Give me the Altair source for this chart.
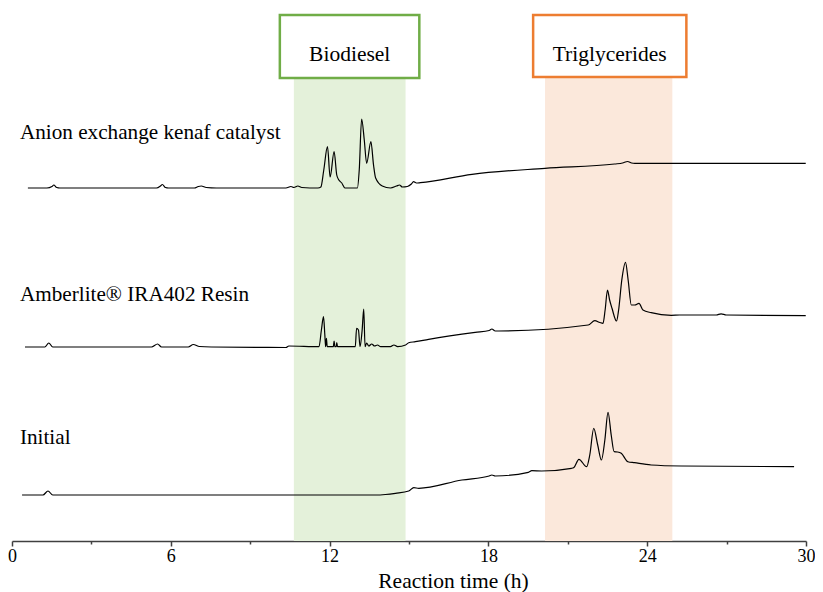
import altair as alt
import pandas as pd

# ---- data (time in h, detector signal in arbitrary units) ----
anion_t = [0.60,1.32,1.51,1.58,1.69,1.81,5.46,5.61,5.68,5.80,5.91,6.89,7.04,7.15,7.34,7.72,
           10.35,10.54,10.65,10.80,10.95,11.56,11.67,11.78,11.92,12.02,12.17,12.27,12.35,12.46,12.58,
           13.05,13.12,13.21,13.31,13.40,13.56,13.66,13.74,13.99,14.30,14.53,14.64,14.75,14.94,
           15.09,15.17,15.28,15.43,17.38,20.14,22.77,23.07,23.26,23.41,23.53,29.99]
anion_s = [353,353,354.5,356,353.5,353,353,355,356.5,353.5,353,353,354.5,355,353.5,353,
           353,354.5,353.5,355,353.5,353,354,371,394.3,364,389.3,366,361,358,353,
           353,371,422,401,377.7,399.3,376,363,355,353,355,356,354,354.5,
           357,359.3,358,358.3,366.7,372.7,377,378,379.5,378,377.7,377.7]

amber_t = [0.49,1.24,1.39,1.54,5.27,5.50,5.65,6.66,6.85,7.08,7.53,10.35,10.46,11.60,11.69,11.77,
           11.82,11.85,11.88,11.91,12.14,12.17,12.20,12.25,12.27,12.30,12.97,13.02,13.09,13.15,
           13.23,13.29,13.34,13.40,13.48,13.59,13.70,13.81,13.93,14.30,14.43,14.57,14.87,14.99,
           15.24,15.74,17.50,18.03,18.13,18.26,18.38,21.77,22.02,22.21,22.33,22.41,22.50,22.58,
           22.67,22.84,22.92,23.04,23.18,23.28,23.40,23.53,23.69,23.84,24.15,24.91,25.22,26.61,
           26.79,26.99,29.99]
amber_s = [194,194,198,194,194,197,194,194,196.5,194.5,194,193.5,195,194.3,211,224.3,
           206,194.3,202.7,194.3,194.3,200,194.3,194.3,198.3,194.3,194.3,212.7,211,194.3,
           211,232,194.3,198,195,197,195,196,194.3,194.3,196,194.3,196,198.3,
           199.3,201.7,208.7,210.5,212,210,210,216,220.3,218.5,217.7,231,251,241,
           232.7,220,231,261,278.7,261,236,236,237.7,231,228.3,225.7,226,226,
           227.2,226,225.3]

init_t = [0.38,1.17,1.36,1.54,13.74,14.11,14.49,14.99,15.18,15.37,17.00,18.03,18.13,18.26,
          19.51,19.64,20.01,21.14,21.23,21.42,21.71,21.83,21.98,22.13,22.27,22.40,22.52,22.64,
          22.75,22.88,23.02,23.27,23.52,24.15,25.28,29.55]
init_s = [46,46,50,46,46,46.5,47.7,50,53.3,52.7,61,65,66,65,
          68.7,70.3,70,72.7,73.5,81.7,74.3,86,112.7,96,81,101,128.7,106,
          89.3,89,87.7,79.3,78.3,76,75,74.3]

trace_names = ["Anion exchange kenaf catalyst", "Amberlite® IRA402 Resin", "Initial"]
label_t = [0.3, 0.3, 0.3]
label_s = [402, 240, 97]

region_names = ["Biodiesel", "Triglycerides"]
region_start = [10.65, 20.14]
region_end = [14.87, 24.95]
region_top = [463, 463]
region_fill = ["#E4F1DA", "#FBE8DB"]
box_start = [10.12, 19.69]
box_end = [15.39, 25.48]
box_bottom = [463, 464]
box_top = [526, 526]
box_stroke = ["#70AD47", "#ED7D31"]
box_text_t = [12.76, 22.58]
box_text_s = [486, 486]

x_ticks = [0, 3, 6, 9, 12, 15, 18, 21, 24, 27, 30]
y_domain = [0, 533]

# ---- tables ----
rows = []
for name, ts, ss in zip(trace_names, [anion_t, amber_t, init_t], [anion_s, amber_s, init_s]):
    for t, s in zip(ts, ss):
        rows.append({"trace": name, "t": t, "s": s})
traces = pd.DataFrame(rows)
labels = pd.DataFrame({"name": trace_names, "t": label_t, "s": label_s})
regions = pd.DataFrame({
    "name": region_names, "start": region_start, "end": region_end, "top": region_top,
    "fill": region_fill, "bstart": box_start, "bend": box_end, "bbot": box_bottom,
    "btop": box_top, "stroke": box_stroke, "tt": box_text_t, "ts": box_text_s,
})

FONT = "Liberation Serif"
xscale = alt.Scale(domain=[0, 30], nice=False, zero=False)
yscale = alt.Scale(domain=y_domain, nice=False, zero=False)

xaxis = alt.Axis(
    values=x_ticks,
    labelExpr="datum.value % 6 === 0 ? datum.label : ''",
    labelFlush=False,
    title="Reaction time (h)",
    titleX=441,
    titleAlign="center",
    grid=False,
    domainColor="#404040", domainWidth=1.5,
    tickColor="#404040", tickWidth=1.5,
    tickSize={"condition": {"test": "datum.value % 6 === 0", "value": 5}, "value": 3},
    labelFont=FONT, labelFontSize=18, labelColor="black", labelPadding=1,
    titleFont=FONT, titleFontSize=21.5, titleFontWeight="normal", titleColor="black",
    titlePadding=5,
)

shade = alt.Chart(regions).mark_rect().encode(
    x=alt.X("start:Q", scale=xscale, axis=xaxis),
    x2="end:Q",
    y=alt.Y("top:Q", scale=yscale, axis=None),
    y2=alt.datum(y_domain[0]),
    color=alt.Color("fill:N", scale=None),
)

boxes = alt.Chart(regions).mark_rect(fill="white", strokeWidth=2.5).encode(
    x=alt.X("bstart:Q", scale=xscale),
    x2="bend:Q",
    y=alt.Y("btop:Q", scale=yscale),
    y2="bbot:Q",
    stroke=alt.Color("stroke:N", scale=None),
)

box_text = alt.Chart(regions).mark_text(
    font=FONT, fontSize=21.5, color="black", align="center", baseline="middle"
).encode(
    x=alt.X("tt:Q", scale=xscale),
    y=alt.Y("ts:Q", scale=yscale),
    text="name:N",
)

lines = alt.Chart(traces).mark_line(
    color="black", strokeWidth=1.2, interpolate="monotone"
).encode(
    x=alt.X("t:Q", scale=xscale),
    y=alt.Y("s:Q", scale=yscale),
    detail="trace:N",
    order="t:Q",
)

trace_text = alt.Chart(labels).mark_text(
    font=FONT, fontSize=21.2, color="black", align="left", baseline="alphabetic"
).encode(
    x=alt.X("t:Q", scale=xscale),
    y=alt.Y("s:Q", scale=yscale),
    text="name:N",
)

chart = alt.layer(shade, boxes, box_text, lines, trace_text).properties(
    width=794, height=533,
    autosize=alt.AutoSizeParams(type="none"),
    padding={"left": 4, "top": 0, "right": 9, "bottom": 51},
).configure_view(stroke=None)

chart.save("out.html", embed_options={"renderer": "svg", "actions": False})
